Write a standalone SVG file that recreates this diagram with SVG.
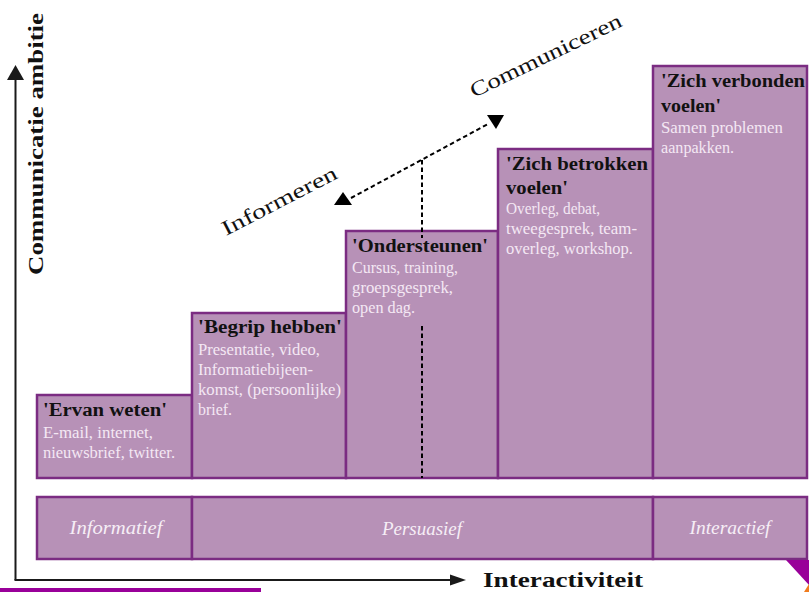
<svg xmlns="http://www.w3.org/2000/svg" width="809" height="592" viewBox="0 0 809 592">
<style>
  .box { fill: #B791B7; stroke: #7B2C82; stroke-width: 2.5; }
  .ttl { font-family: "Liberation Serif", "DejaVu Serif", serif; font-weight: bold; font-size: 18px; fill: #111111; }
  .dsc { font-family: "Liberation Serif", "DejaVu Serif", serif; font-size: 16px; fill: #F4E8F4; }
  .band { font-family: "Liberation Serif", "DejaVu Serif", serif; font-style: italic; font-size: 19px; fill: #F6EEF6; text-anchor: middle; }
  .axl { font-family: "Liberation Serif", "DejaVu Serif", serif; font-weight: bold; font-size: 22px; fill: #111111; }
  .diag { font-family: "Liberation Serif", "DejaVu Serif", serif; font-size: 21px; fill: #111111; }
  .axis { stroke: #1A1A1A; stroke-width: 2; fill: none; }
  .dash { stroke: #000000; stroke-width: 2; stroke-dasharray: 4.5 3; fill: none; }
  .head { fill: #000000; }
</style>
<rect width="809" height="592" fill="#FFFFFF"/>

<g id="axes">
  <line class="axis" x1="15.5" y1="79" x2="15.5" y2="580"/>
  <polygon fill="#1A1A1A" points="15.5,65 7,80 24,80"/>
  <line class="axis" x1="14.5" y1="580" x2="452" y2="580"/>
  <polygon fill="#1A1A1A" points="466,580 450,574.5 450,585.5"/>
  <text class="axl" transform="translate(43,144) rotate(-90)" text-anchor="middle" textLength="262" lengthAdjust="spacingAndGlyphs">Communicatie ambitie</text>
  <text class="axl" x="483" y="587" textLength="160" lengthAdjust="spacingAndGlyphs">Interactiviteit</text>
</g>

<g id="node-ervan-weten">
  <rect class="box" x="37" y="395" width="155" height="83"/>
  <text class="ttl" x="43" y="416" textLength="124" lengthAdjust="spacingAndGlyphs">'Ervan weten'</text>
  <text class="dsc" x="43" y="438" textLength="110" lengthAdjust="spacingAndGlyphs">E-mail, internet,</text>
  <text class="dsc" x="43" y="458" textLength="132" lengthAdjust="spacingAndGlyphs">nieuwsbrief, twitter.</text>
</g>

<g id="node-begrip-hebben">
  <rect class="box" x="192" y="313" width="154" height="165"/>
  <text class="ttl" x="198" y="333" textLength="144" lengthAdjust="spacingAndGlyphs">'Begrip hebben'</text>
  <text class="dsc" x="198" y="355" textLength="122" lengthAdjust="spacingAndGlyphs">Presentatie, video,</text>
  <text class="dsc" x="198" y="375" textLength="115" lengthAdjust="spacingAndGlyphs">Informatiebijeen-</text>
  <text class="dsc" x="198" y="395" textLength="143" lengthAdjust="spacingAndGlyphs">komst, (persoonlijke)</text>
  <text class="dsc" x="198" y="415" textLength="34" lengthAdjust="spacingAndGlyphs">brief.</text>
</g>

<g id="node-ondersteunen">
  <rect class="box" x="346" y="231" width="152" height="247"/>
  <text class="ttl" x="352" y="252" textLength="136" lengthAdjust="spacingAndGlyphs">'Ondersteunen'</text>
  <text class="dsc" x="352" y="273" textLength="106" lengthAdjust="spacingAndGlyphs">Cursus, training,</text>
  <text class="dsc" x="352" y="293" textLength="101" lengthAdjust="spacingAndGlyphs">groepsgesprek,</text>
  <text class="dsc" x="352" y="313" textLength="63" lengthAdjust="spacingAndGlyphs">open dag.</text>
</g>

<g id="node-zich-betrokken-voelen">
  <rect class="box" x="498" y="149" width="155" height="329"/>
  <text class="ttl" x="506" y="170" textLength="142" lengthAdjust="spacingAndGlyphs">'Zich betrokken</text>
  <text class="ttl" x="506" y="194" textLength="62" lengthAdjust="spacingAndGlyphs">voelen'</text>
  <text class="dsc" x="506" y="214" textLength="94" lengthAdjust="spacingAndGlyphs">Overleg, debat,</text>
  <text class="dsc" x="506" y="234" textLength="131" lengthAdjust="spacingAndGlyphs">tweegesprek, team-</text>
  <text class="dsc" x="506" y="254" textLength="127" lengthAdjust="spacingAndGlyphs">overleg, workshop.</text>
</g>

<g id="node-zich-verbonden-voelen">
  <rect class="box" x="653" y="66" width="154" height="412"/>
  <text class="ttl" x="661" y="87" textLength="144" lengthAdjust="spacingAndGlyphs">'Zich verbonden</text>
  <text class="ttl" x="661" y="112" textLength="60" lengthAdjust="spacingAndGlyphs">voelen'</text>
  <text class="dsc" x="661" y="133" textLength="122" lengthAdjust="spacingAndGlyphs">Samen problemen</text>
  <text class="dsc" x="661" y="153" textLength="73" lengthAdjust="spacingAndGlyphs">aanpakken.</text>
</g>

<g id="band">
  <rect class="box" x="37" y="497" width="155" height="62"/>
  <rect class="box" x="192" y="497" width="461" height="62"/>
  <rect class="box" x="653" y="497" width="154" height="62"/>
  <text class="band" x="116" y="534" textLength="93" lengthAdjust="spacingAndGlyphs">Informatief</text>
  <text class="band" x="422" y="535" textLength="80" lengthAdjust="spacingAndGlyphs">Persuasief</text>
  <text class="band" x="730" y="534" textLength="81" lengthAdjust="spacingAndGlyphs">Interactief</text>
</g>

<g id="connectors">
  <line class="dash" x1="351" y1="198" x2="488" y2="124"/>
  <polygon class="head" points="343,192 334,205 352,205"/>
  <polygon class="head" points="487,115 504,115 496,129"/>
  <line class="dash" x1="422" y1="160" x2="422" y2="238"/>
  <line class="dash" x1="422" y1="326" x2="422" y2="478"/>
  <text class="diag" transform="translate(226,236) rotate(-27.3)" textLength="127" lengthAdjust="spacingAndGlyphs">Informeren</text>
  <text class="diag" transform="translate(474,98) rotate(-25.8)" textLength="166" lengthAdjust="spacingAndGlyphs">Communiceren</text>
</g>

<g id="decor">
  <rect x="0" y="588" width="261" height="4" fill="#990099"/>
  <polygon points="786,560 809,560 809,585" fill="#990099"/>
  <polygon points="804,592 809,584 809,592" fill="#F07C1E"/>
</g>
</svg>
